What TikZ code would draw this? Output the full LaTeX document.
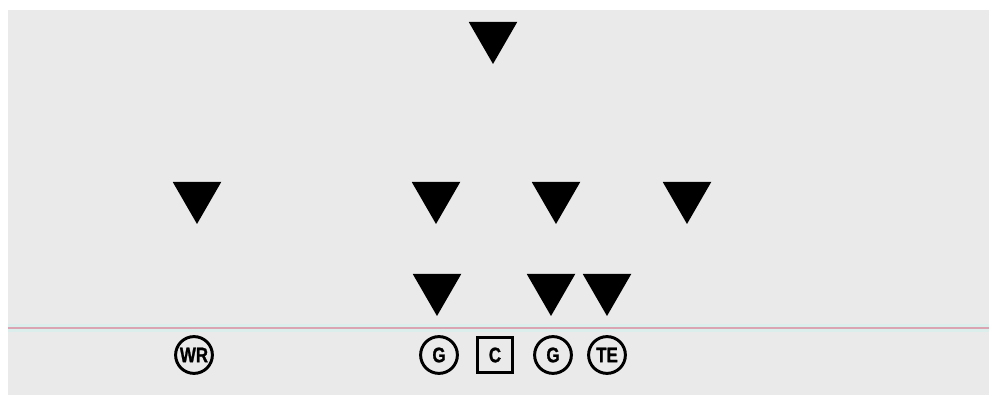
\documentclass[tikz,border=0pt]{standalone}
\usepackage{xcolor}
\usepackage{fontspec}
\newfontfamily\posfont{Liberation Sans}[FakeStretch=0.8,FakeBold=1.2]
\usepackage{tikz}
\usetikzlibrary{shapes.geometric,positioning,calc}

\definecolor{fieldgray}{RGB}{234,234,234}
\definecolor{scrimred}{RGB}{218,164,178}
\definecolor{scrimglow}{RGB}{220,238,236}

\begin{document}
\begin{tikzpicture}[
		defender/.style={regular polygon, regular polygon sides=3, shape border rotate=180, fill=black, inner sep=0pt, minimum size=1.4cm},
		player/.style={draw, circle, line width=2.1pt, minimum size=0.92cm, inner sep=0pt, font=\posfont\bfseries\fontsize{15}{15}\selectfont},
		center/.style={player, rectangle, minimum size=0.88cm}
	]
		\useasboundingbox (0,0) rectangle (24.725,9.875);
		\fill[white] (0,0) rectangle (24.725,9.875);
		\fill[fieldgray] (0.2,0) rectangle (24.725,9.625);
		% line of scrimmage
		\coordinate (losL) at (0.2,1.675);
		\coordinate (losR) at (24.725,1.675);
		\draw[scrimglow, line width=6pt] (losL) -- (losR);
		\draw[scrimred, line width=2pt] (losL) -- (losR);
		% defense
		\node[defender] (safety) at (12.325,8.975) {};
		\node[defender] (cb) at (4.925,4.975) {};
		\node[defender] (lbL) at (10.9,4.975) {};
		\node[defender] (lbM) at (13.9,4.975) {};
		\node[defender] (lbR) at (17.175,4.975) {};
		\node[defender] (dtL) at (10.925,2.675) {};
		\node[defender] (dtR) at (13.775,2.675) {};
		\node[defender] (de) at (15.175,2.675) {};
		% offense
		\node[player] (wr) at (4.85,1.0) {WR};
		\node[player] (lg) at (10.975,1.0) {G};
		\node[center] (c) at (12.375,1.0) {C};
		\node[player] (rg) at (13.825,1.0) {G};
		\node[player] (te) at (15.175,1.0) {TE};
	\end{tikzpicture}
\end{document}
